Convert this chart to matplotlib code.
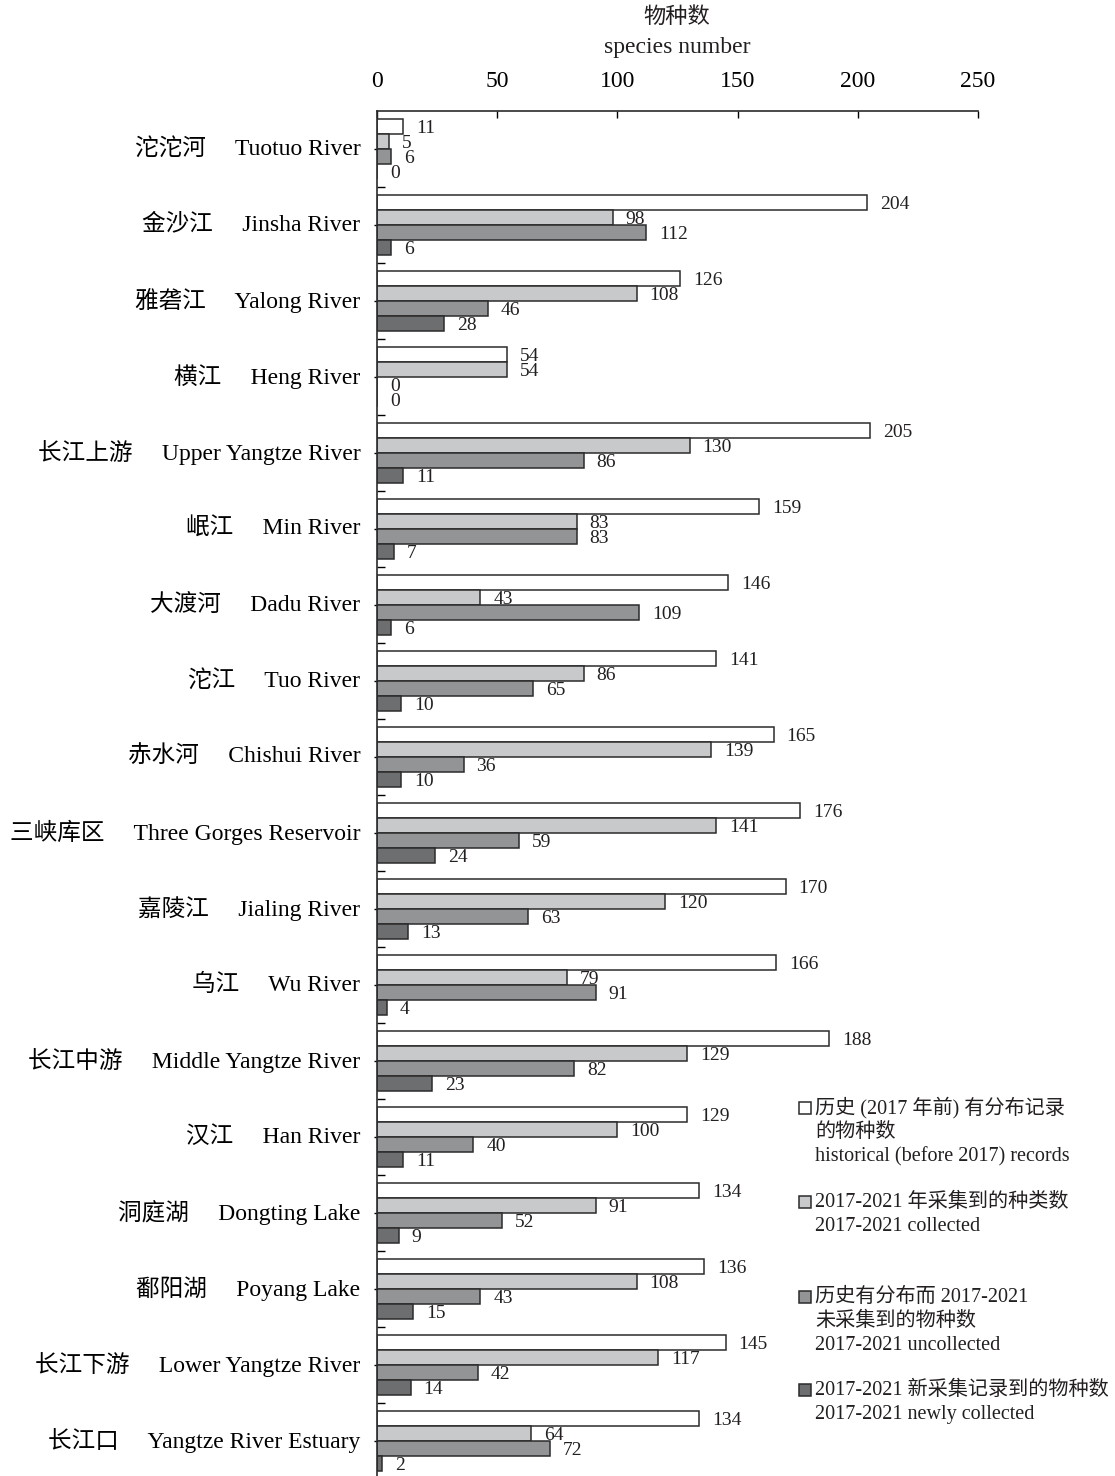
import numpy as np
import matplotlib
matplotlib.use("Agg")
import matplotlib.pyplot as plt
from matplotlib.patches import Rectangle
from matplotlib.transforms import ScaledTranslation

plt.rcParams['font.family'] = ['Liberation Serif', 'Noto Sans CJK SC', 'DejaVu Sans']
plt.rcParams['text.color'] = '#231f20'

# data
rivers_cn = ["沱沱河", "金沙江", "雅砻江", "横江", "长江上游", "岷江", "大渡河", "沱江",
             "赤水河", "三峡库区", "嘉陵江", "乌江", "长江中游", "汉江", "洞庭湖",
             "鄱阳湖", "长江下游", "长江口"]
rivers_en = ["Tuotuo River", "Jinsha River", "Yalong River", "Heng River",
             "Upper Yangtze River", "Min River", "Dadu River", "Tuo River",
             "Chishui River", "Three Gorges Reservoir", "Jialing River", "Wu River",
             "Middle Yangtze River", "Han River", "Dongting Lake", "Poyang Lake",
             "Lower Yangtze River", "Yangtze River Estuary"]
historical = [11, 204, 126, 54, 205, 159, 146, 141, 165, 176, 170, 166, 188, 129, 134, 136, 145, 134]
collected = [5, 98, 108, 54, 130, 83, 43, 86, 139, 141, 120, 79, 129, 100, 91, 108, 117, 64]
uncollected = [6, 112, 46, 0, 86, 83, 109, 65, 36, 59, 63, 91, 82, 40, 52, 43, 42, 72]
newly = [0, 6, 28, 0, 11, 7, 6, 10, 10, 24, 13, 4, 23, 11, 9, 15, 14, 2]

series = [historical, collected, uncollected, newly]
colors = ["#ffffff", "#c8c9cb", "#939496", "#6d6e70"]
legend_lines = [
    ["历史 (2017 年前) 有分布记录", "的物种数", "historical (before 2017) records"],
    ["2017-2021 年采集到的种类数", "2017-2021 collected"],
    ["历史有分布而 2017-2021", "未采集到的物种数", "2017-2021 uncollected"],
    ["2017-2021 新采集记录到的物种数", "2017-2021 newly collected"],
]

W, H = 1115, 1476
fig = plt.figure(figsize=(W / 100, H / 100), dpi=100)
ax = fig.add_axes([377 / W, 0, 601 / W, 1 - 111 / H])

y = np.arange(len(rivers_cn))
h = 0.2
for k, (vals, c) in enumerate(zip(series, colors)):
    pos = y + (k - 1.5) * h
    ax.barh(pos, vals, height=h, color=c, edgecolor="#2b2b2b", linewidth=1.1)
    for p, v in zip(pos, vals):
        ax.annotate(str(v), (v, p), xytext=(13, -2), textcoords="offset pixels",
                    ha="left", va="center", fontsize=14)

ax.set_xlim(0, 250)
ax.set_ylim(17.46, -0.5)
ax.xaxis.tick_top()
ax.set_xticks([0, 50, 100, 150, 200, 250])
ax.tick_params(axis="x", direction="in", length=5, width=1, labelsize=17, pad=14)
ax.set_yticks(y)
ax.set_yticklabels([f"{c}     {e}" for c, e in zip(rivers_cn, rivers_en)],
                   va="center_baseline")
ax.tick_params(axis="y", which="major", direction="out", length=2, width=1,
               labelsize=17, pad=10)
ax.set_yticks(y[:-1] + 0.5, minor=True)
ax.tick_params(axis="y", which="minor", direction="in", length=6, width=1)
shift = ScaledTranslation(0, 3 / 100, fig.dpi_scale_trans)
for lab in ax.get_yticklabels():
    lab.set_transform(lab.get_transform() + shift)
for s in ["right", "bottom"]:
    ax.spines[s].set_visible(False)
for s in ["top", "left"]:
    ax.spines[s].set_linewidth(1.2)
    ax.spines[s].set_color("#2b2b2b")

# axis title
fig.text(677 / W, 1 - 18 / H, "物种数", ha="center", va="center", fontsize=16)
fig.text(677 / W, 1 - 48 / H, "species number", ha="center", va="center", fontsize=17)

# legend
starts = [1108, 1202, 1297, 1390]
for lines, c, y0 in zip(legend_lines, colors, starts):
    fig.patches.append(Rectangle((799 / W, 1 - (y0 + 6) / H), 12 / W, 12 / H,
                                 transform=fig.transFigure, facecolor=c,
                                 edgecolor="#2b2b2b", linewidth=1.1))
    for j, t in enumerate(lines):
        fig.text(815 / W, 1 - (y0 + 24.5 * j) / H, t, ha="left", va="center",
                 fontsize=14.5)

fig.savefig("out.png", dpi=100)
